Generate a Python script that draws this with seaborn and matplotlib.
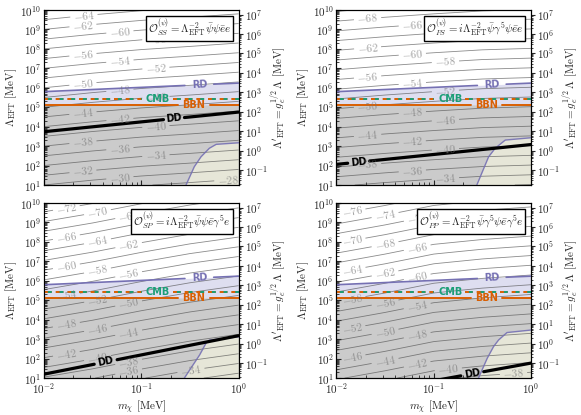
import numpy as np
import matplotlib
matplotlib.use("Agg")
import matplotlib.pyplot as plt
import seaborn as sns
from matplotlib.ticker import LogLocator, NullFormatter

### Data (log10 values)

PANEL_KEYS = ["SS", "PS", "SP", "PP"]
OPERATOR_LABELS = {
    "SS": r"$\mathcal{O}^{(\psi)}_{SS} = \Lambda^{-2}_{\rm EFT}\bar{\psi}\psi\bar{e}e$",
    "PS": r"$\mathcal{O}^{(\psi)}_{PS} = i\Lambda^{-2}_{\rm EFT}\bar{\psi}\gamma^5\psi\bar{e}e$",
    "SP": r"$\mathcal{O}^{(\psi)}_{SP} = i\Lambda^{-2}_{\rm EFT}\bar{\psi}\psi\bar{e}\gamma^5 e$",
    "PP": r"$\mathcal{O}^{(\psi)}_{PP} = \Lambda^{-2}_{\rm EFT}\bar{\psi}\gamma^5\psi\bar{e}\gamma^5 e$",
}

# contour field: level = SLOPE * log10(Lambda) + offset(log10 m)
SLOPE = -4.0
LOGM_NODES = [-2.0, -1.5, -1.0, -0.5, 0.0]
OFFSET_SS = [-26.0, -25.0, -24.15, -23.5, -22.8]
OFFSET_PS = [-30.3, -29.5, -28.8, -28.2, -27.9]
OFFSET_SP = [-33.8, -32.1, -30.15, -28.4, -27.0]
OFFSET_PP = [-38.3, -36.5, -34.5, -33.5, -32.8]
CONTOUR_LEVELS = list(range(-80, -16, 2))

# horizontal-ish bounds, at m = 0.01 and m = 1 MeV
EDGE_LOGM = [-2.0, 0.0]
RD_LOGL = [5.80, 6.24]
CMB_LOGL = [5.41, 5.41]
BBN_LOGL = [5.12, 5.12]
DD_SS = [3.74, 4.75]
DD_PS = [2.06, 3.08]
DD_SP = [1.20, 3.18]
DD_PP = [-0.05, 1.77]

# lower-right excluded region boundary
BEIGE_LOGM_SS = [-0.54, -0.455, -0.386, -0.30, -0.23, 0.0]
BEIGE_LOGL_SS = [1.0, 1.94, 2.45, 2.89, 3.09, 3.17]
BEIGE_LOGM_PS = [-0.557, -0.436, -0.368, -0.265, 0.0]
BEIGE_LOGL_PS = [1.0, 2.45, 2.89, 3.31, 3.43]
BEIGE_LOGM_SP = [-0.557, -0.49, -0.40, -0.335, -0.30, 0.0]
BEIGE_LOGL_SP = [1.0, 1.51, 2.19, 2.79, 2.95, 3.12]
BEIGE_LOGM_PP = [-0.54, -0.45, -0.385, -0.333, -0.247, 0.0]
BEIGE_LOGL_PP = [1.0, 2.02, 2.62, 2.96, 3.34, 3.47]

SQRT_GE = np.sqrt(2.94e-6)

DATA = {
    "SS": dict(offset=OFFSET_SS, dd=DD_SS, bm=BEIGE_LOGM_SS, bl=BEIGE_LOGL_SS),
    "PS": dict(offset=OFFSET_PS, dd=DD_PS, bm=BEIGE_LOGM_PS, bl=BEIGE_LOGL_PS),
    "SP": dict(offset=OFFSET_SP, dd=DD_SP, bm=BEIGE_LOGM_SP, bl=BEIGE_LOGL_SP),
    "PP": dict(offset=OFFSET_PP, dd=DD_PP, bm=BEIGE_LOGM_PP, bl=BEIGE_LOGL_PP),
}

# layout only: label columns for contour labels, DD label gap
LAYOUT = {
    "SS": dict(cols=[-1.6, -1.22, -0.85], ref=-56, step=0.37, dd_x=-0.665, dd_gap=(-0.77, -0.56)),
    "PS": dict(cols=[-1.68, -1.22, -0.88], ref=-56, step=0.40, dd_x=-1.77, dd_gap=(-1.88, -1.66)),
    "SP": dict(cols=[-1.77, -1.45, -1.13], ref=-60, step=0.32, dd_x=-1.365, dd_gap=(-1.48, -1.25)),
    "PP": dict(cols=[-1.84, -1.50, -1.17], ref=-70, step=0.33, dd_x=-0.605, dd_gap=(-0.72, -0.49)),
}

C_RD, C_CMB, C_BBN = "#7570b3", "#1b9e77", "#d95f02"
C_GRAY, C_LAV, C_BEIGE = "#cbcbcb", "#dedef0", "#e6e6d8"

### Style
sns.set_style("ticks")
plt.rcParams.update({
    "font.family": "serif",
    "font.serif": ["cmr10", "DejaVu Serif"],
    "mathtext.fontset": "cm",
    "axes.formatter.use_mathtext": True,
    "font.size": 8,
    "axes.labelsize": 8,
    "xtick.labelsize": 8,
    "ytick.labelsize": 8,
    "axes.linewidth": 0.8,
    "axes.edgecolor": "black",
})


def gapped_line(ax, lm, ll, gap=None, **kw):
    x = np.linspace(-2, 0, 400)
    y = np.interp(x, lm, ll)
    if gap is not None:
        y = np.where((x > gap[0]) & (x < gap[1]), np.nan, y)
    ax.plot(10**x, 10**y, **kw)


def line_label(ax, text, lm, ll, xc, color):
    yc = np.interp(xc, lm, ll)
    p0 = ax.transData.transform((10**lm[0], 10**ll[0]))
    p1 = ax.transData.transform((10**lm[-1], 10**ll[-1]))
    ang = np.degrees(np.arctan2(p1[1] - p0[1], p1[0] - p0[0]))
    ax.text(10**xc, 10**yc, text, rotation=ang, rotation_mode="anchor",
            ha="center", va="center", color=color, fontsize=7,
            fontweight="bold", family="DejaVu Sans", zorder=4)


fig, axes = plt.subplots(2, 2, figsize=(5.81, 4.15), dpi=100, sharex=True)
fig.subplots_adjust(left=0.0757, right=0.914, bottom=0.089, top=0.976,
                    wspace=0.503, hspace=0.103)

lm_grid = np.linspace(-2, 0, 300)
ll_grid = np.linspace(1, 10, 300)
GM, GL = np.meshgrid(lm_grid, ll_grid)

for ax, key in zip(axes.flat, PANEL_KEYS):
    d, lay = DATA[key], LAYOUT[key]
    ax.set_xscale("log"); ax.set_yscale("log")
    ax.set_xlim(1e-2, 1); ax.set_ylim(1e1, 1e10)

    xs = np.logspace(-2, 0, 200)
    rd = 10**np.interp(np.log10(xs), EDGE_LOGM, RD_LOGL)
    bbn = 10**np.interp(np.log10(xs), EDGE_LOGM, BBN_LOGL)
    ax.fill_between(xs, 1e1, bbn, color=C_GRAY, lw=0, zorder=0.5)
    ax.fill_between(xs, bbn, rd, color=C_LAV, lw=0, zorder=0.5)
    bx = 10**np.array(d["bm"] + [0.0])
    by = 10**np.array(d["bl"] + [1.0])
    ax.fill(bx, by, color=C_BEIGE, lw=0, zorder=0.6)
    sns.lineplot(x=10**np.array(d["bm"]), y=10**np.array(d["bl"]), ax=ax,
                 color=C_RD, lw=1.0, alpha=0.9, sort=False, zorder=3)

    # contours
    Z = SLOPE * GL + np.interp(GM, LOGM_NODES, d["offset"])
    cs = ax.contour(10**GM, 10**GL, Z, levels=CONTOUR_LEVELS, colors="0.3",
                    linewidths=0.6, linestyles="solid", alpha=0.65, zorder=2)
    positions = []
    for lev in CONTOUR_LEVELS:
        x = lay["cols"][((lev - lay["ref"]) // 2) % 3]
        y = (np.interp(x, LOGM_NODES, d["offset"]) - lev) / -SLOPE
        while y > 9.75 and x > -2:
            x -= lay["step"]
            y = (np.interp(x, LOGM_NODES, d["offset"]) - lev) / -SLOPE
        while y < 1.22 and x < 0:
            x += lay["step"]
            y = (np.interp(x, LOGM_NODES, d["offset"]) - lev) / -SLOPE
        if -2 < x < 0 and 1.22 <= y <= 9.75:
            positions.append((10**x, 10**y))
    ax.clabel(cs, manual=positions, fmt=lambda v: rf"${v:.0f}$",
              fontsize=8, colors="0.45", inline=True, inline_spacing=3)

    # bounds
    gapped_line(ax, EDGE_LOGM, RD_LOGL, (-0.55, -0.26), color=C_RD, lw=1.2, zorder=3)
    gapped_line(ax, EDGE_LOGM, CMB_LOGL, (-0.99, -0.68), color=C_BBN, lw=1.4,
                ls=(0, (4, 2)), zorder=3)
    gapped_line(ax, EDGE_LOGM, CMB_LOGL, (-0.99, -0.68), color=C_CMB, lw=1.4,
                ls=(4, (2, 4)), zorder=3)
    gapped_line(ax, EDGE_LOGM, BBN_LOGL, (-0.62, -0.30), color=C_BBN, lw=1.4, zorder=3)
    gapped_line(ax, EDGE_LOGM, d["dd"], lay["dd_gap"], color="black", lw=2.3, zorder=3.5)

    line_label(ax, "RD", EDGE_LOGM, RD_LOGL, -0.40, C_RD)
    line_label(ax, "CMB", EDGE_LOGM, CMB_LOGL, -0.83, C_CMB)
    line_label(ax, "BBN", EDGE_LOGM, BBN_LOGL, -0.46, C_BBN)
    line_label(ax, "DD", EDGE_LOGM, d["dd"], lay["dd_x"], "black")

    ax.text(0.96, 0.955, OPERATOR_LABELS[key], transform=ax.transAxes,
            ha="right", va="top", fontsize=7.8, zorder=6,
            bbox=dict(boxstyle="square,pad=0.2", fc="white", ec="black", lw=1.0))

    ax.yaxis.set_major_locator(LogLocator(base=10, numticks=12))
    ax.yaxis.set_minor_locator(LogLocator(base=10, subs=np.arange(2, 10), numticks=12))
    ax.yaxis.set_minor_formatter(NullFormatter())
    ax.tick_params(which="both", direction="in", pad=2)
    ax.tick_params(which="major", length=3.5)
    ax.tick_params(which="minor", length=2)
    ax.set_ylabel(r"$\Lambda_{\rm EFT}$ [MeV]", labelpad=1)

    sec = ax.twinx()
    sec.set_yscale("log")
    sec.set_ylim(1e1 * SQRT_GE, 1e10 * SQRT_GE)
    sec.yaxis.set_major_locator(LogLocator(base=10, numticks=12))
    sec.yaxis.set_minor_locator(LogLocator(base=10, subs=np.arange(2, 10), numticks=12))
    sec.yaxis.set_minor_formatter(NullFormatter())
    sec.tick_params(which="major", direction="out", length=3, pad=1.5)
    sec.tick_params(which="minor", direction="out", length=1.5)
    sec.set_ylabel(r"$\Lambda'_{\rm EFT} = g_e^{1/2}\,\Lambda$ [MeV]", labelpad=1)

for ax in axes[1]:
    ax.set_xlabel(r"$m_\chi$ [MeV]", labelpad=2)

fig.savefig("out.png", dpi=100)
